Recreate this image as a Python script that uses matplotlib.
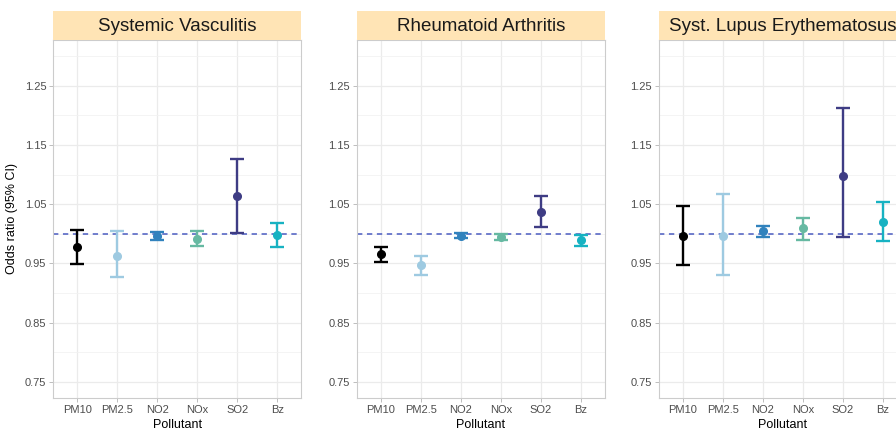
import matplotlib
matplotlib.use("Agg")
import matplotlib.pyplot as plt
from matplotlib.patches import Rectangle

plt.rcParams['font.family'] = ['Liberation Sans', 'DejaVu Sans']

pollutants = ["PM10", "PM2.5", "NO2", "NOx", "SO2", "Bz"]
colors = ["#000000", "#9ECAE1", "#3182BD", "#66B9A2", "#3E3C84", "#17B2C2"]
panel_titles = ["Systemic Vasculitis", "Rheumatoid Arthritis", "Syst. Lupus Erythematosus"]

# odds ratios and 95% CI per panel
sv_or = [0.977, 0.963, 0.997, 0.991, 1.064, 0.998]
sv_lo = [0.949, 0.927, 0.990, 0.980, 1.001, 0.977]
sv_hi = [1.006, 1.004, 1.003, 1.004, 1.127, 1.019]

ra_or = [0.966, 0.948, 0.997, 0.994, 1.037, 0.989]
ra_lo = [0.953, 0.931, 0.993, 0.989, 1.011, 0.980]
ra_hi = [0.978, 0.963, 1.001, 0.999, 1.064, 0.998]

sle_or = [0.996, 0.997, 1.004, 1.009, 1.097, 1.020]
sle_lo = [0.947, 0.931, 0.994, 0.989, 0.994, 0.988]
sle_hi = [1.047, 1.067, 1.014, 1.027, 1.212, 1.054]

panels = [(sv_or, sv_lo, sv_hi), (ra_or, ra_lo, ra_hi), (sle_or, sle_lo, sle_hi)]

yticks = [0.75, 0.85, 0.95, 1.05, 1.15, 1.25]
yminor = [0.80, 0.90, 1.00, 1.10, 1.20, 1.30]

W, H = 896, 432
fig = plt.figure(figsize=(W / 100, H / 100), dpi=100)

lefts = [53.3, 357.0, 659.0]
pw = 248.0
ptop, pbot = 40.0, 398.0
strip_top = 11.0

grid_c = "#EBEBEB"
border_c = "#CCCCCC"
tick_c = "#4D4D4D"

for i, (orv, lo, hi) in enumerate(panels):
    l = lefts[i]
    ax = fig.add_axes([l / W, (H - pbot) / H, pw / W, (pbot - ptop) / H])
    x = list(range(1, len(pollutants) + 1))
    ax.set_xlim(0.4, 6.6)
    ax.set_ylim(0.7225, 1.3275)
    ax.set_yticks(yticks)
    ax.set_yticklabels([f"{v:.2f}" for v in yticks])
    ax.set_yticks(yminor, minor=True)
    ax.set_xticks(x)
    ax.set_xticklabels(pollutants)
    ax.grid(True, which="major", color=grid_c, lw=0.9, zorder=0)
    ax.grid(True, which="minor", axis="y", color="#F2F2F2", lw=0.6, zorder=0)
    ax.set_axisbelow(True)
    ax.tick_params(axis="both", which="major", length=3, width=0.6, color="#B3B3B3",
                   labelsize=8, labelcolor=tick_c, pad=2)
    ax.tick_params(axis="y", which="minor", length=0)
    for s in ax.spines.values():
        s.set_color(border_c)
        s.set_linewidth(0.8)
    ax.axhline(1.0, color="#4A5BC0", lw=1.1, ls=(0, (3.5, 3)), zorder=2)
    for j in range(len(pollutants)):
        yerr = [[orv[j] - lo[j]], [hi[j] - orv[j]]]
        ax.errorbar(x[j], orv[j], yerr=yerr, fmt="o", color=colors[j], ms=5.5,
                    elinewidth=1.7, capsize=4.8, capthick=1.7, zorder=3)
    ax.set_xlabel("Pollutant", fontsize=9, color="black", labelpad=3)
    if i == 0:
        ax.set_ylabel("Odds ratio (95% CI)", fontsize=9, color="black", labelpad=5)
    # strip
    sax = fig.add_axes([l / W, (H - ptop) / H, pw / W, (ptop - strip_top) / H])
    sax.add_patch(Rectangle((0, 0), 1, 1, transform=sax.transAxes, facecolor="#FFE4B5",
                            edgecolor="none"))
    sax.set_xticks([])
    sax.set_yticks([])
    for s in sax.spines.values():
        s.set_visible(False)
    sax.text(0.5, 0.47, panel_titles[i], transform=sax.transAxes, ha="center",
             va="center", fontsize=13.5, color="#1A1A1A")

fig.savefig("out.png", dpi=100)
